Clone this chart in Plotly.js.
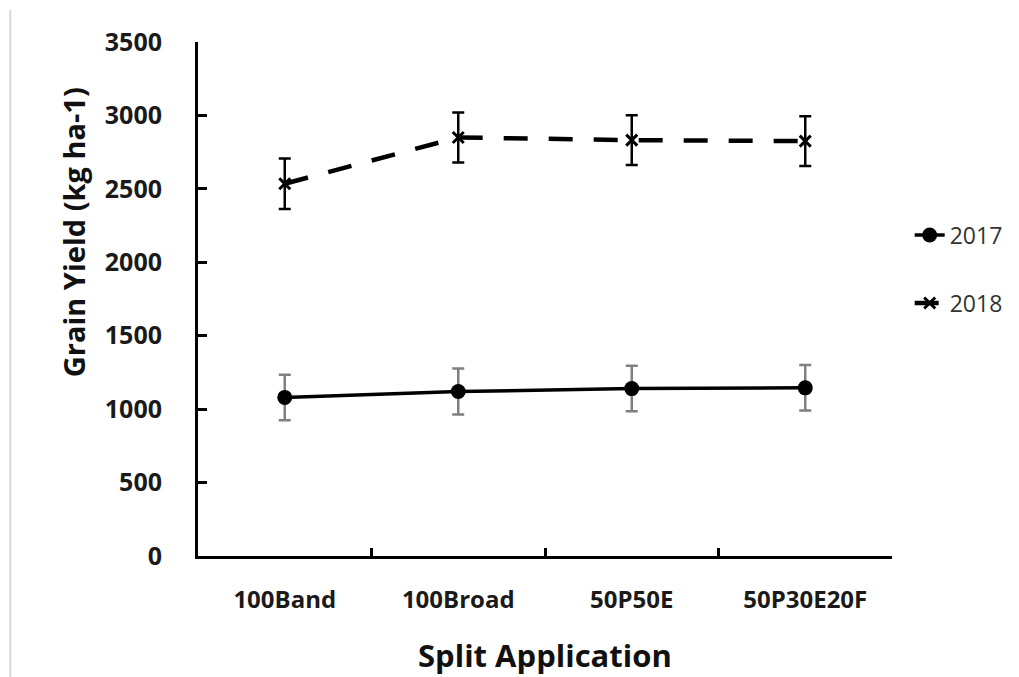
<!DOCTYPE html>
<html>
<head>
<meta charset="utf-8">
<script src="https://cdn.plot.ly/plotly-3.0.1.min.js"></script>
<style>html,body{margin:0;padding:0;background:#fff;}#chart{width:1019px;height:677px;}</style>
</head>
<body>
<div id="chart"></div>
<script>
var categories = ['100Band', '100Broad', '50P50E', '50P30E20F'];
var yield2017 = [1080, 1120, 1140, 1145];
var err2017 = [155, 157, 155, 155];
var yield2018 = [2535, 2850, 2832, 2825];
var err2018 = [172, 170, 170, 170];
var yTicks = [0, 500, 1000, 1500, 2000, 2500, 3000, 3500];

var traces = [
  {
    x: categories, y: yield2017, name: '2017', type: 'scatter', mode: 'lines+markers',
    line: {color: '#000', width: 3.5},
    marker: {symbol: 'circle', size: 15, color: '#000'},
    error_y: {type: 'data', array: err2017, visible: true, color: '#7f7f7f', thickness: 2.5, width: 6},
    legend: 'legend'
  },
  {
    x: categories, y: yield2018, name: '2018', type: 'scatter', mode: 'lines+markers',
    line: {color: '#000', width: 4.5, dash: '24px,21px'},
    marker: {symbol: 'x-thin', size: 11, color: '#000', line: {color: '#000', width: 3}},
    error_y: {type: 'data', array: err2018, visible: true, color: '#000', thickness: 2.5, width: 6},
    legend: 'legend2'
  }
];

var layout = {
  width: 1019, height: 677,
  margin: {l: 198, r: 126, t: 42, b: 121},
  paper_bgcolor: '#fff', plot_bgcolor: '#fff',
  font: {family: 'Open Sans, sans-serif', color: '#222'},
  showlegend: true,
  xaxis: {
    type: 'category', range: [-0.5, 3.5], tickson: 'boundaries',
    ticks: 'inside', ticklen: 8, tickwidth: 3, tickcolor: '#000',
    showline: true, linewidth: 3, linecolor: '#000', showgrid: false, zeroline: false,
    tickfont: {family: 'Open Sans, sans-serif', size: 24, color: '#1a1a1a', weight: 'bold'},
    ticklabelstandoff: 20
  },
  yaxis: {
    range: [0, 3500], tickvals: yTicks, ticktext: yTicks.map(String),
    ticks: 'inside', ticklen: 9, tickwidth: 3, tickcolor: '#000',
    showline: true, linewidth: 3, linecolor: '#000', showgrid: false, zeroline: false,
    tickfont: {family: 'Open Sans, sans-serif', size: 25, color: '#1a1a1a', weight: 'bold'},
    ticklabelstandoff: 28
  },
  legend: {x: 1.024, y: 0.6245, xanchor: 'left', yanchor: 'middle', bgcolor: 'rgba(0,0,0,0)',
    font: {family: 'Open Sans, sans-serif', size: 23, color: '#333'}},
  legend2: {x: 1.024, y: 0.4922, xanchor: 'left', yanchor: 'middle', bgcolor: 'rgba(0,0,0,0)',
    font: {family: 'Open Sans, sans-serif', size: 23, color: '#333'}},
  annotations: [
    {text: 'Grain Yield (kg ha-1)', xref: 'paper', yref: 'paper', x: -0.18, y: 0.630,
     xanchor: 'center', yanchor: 'middle', textangle: -90, showarrow: false,
     font: {family: 'Open Sans, sans-serif', size: 29, color: '#111', weight: 'bold'}},
    {text: 'Split Application', xref: 'paper', yref: 'paper', x: 0.5, y: -0.1926,
     xanchor: 'center', yanchor: 'middle', showarrow: false,
     font: {family: 'Open Sans, sans-serif', size: 31, color: '#111', weight: 'bold'}}
  ],
  shapes: [
    {type: 'line', xref: 'paper', yref: 'paper', x0: -0.2705, x1: -0.2705, y0: 1.0623, y1: -0.2354,
     line: {color: '#d9d9d9', width: 2}}
  ]
};

Plotly.newPlot('chart', traces, layout, {displayModeBar: false, staticPlot: true});
</script>
</body>
</html>
